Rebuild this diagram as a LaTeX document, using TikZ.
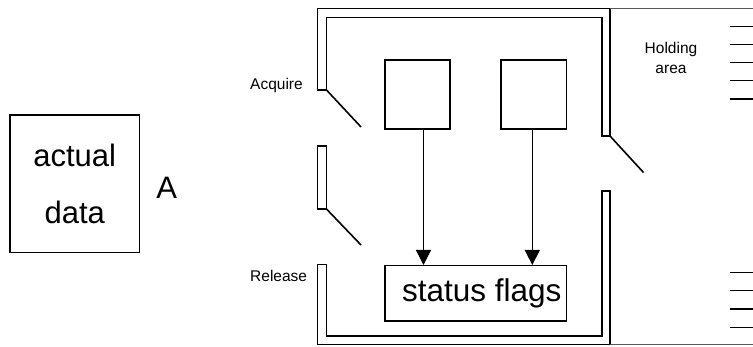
\documentclass[tikz,border=0pt]{standalone}
\usepackage{fontspec}
\setmainfont{Liberation Sans}
\usetikzlibrary{arrows.meta,calc}

\begin{document}
\begin{tikzpicture}[x=1pt,y=-1pt,
    wall/.style={draw=black,line width=1.5pt,line join=miter},
    door/.style={draw=black,line width=1.6pt},
    box/.style={draw=black,line width=1.3pt,rectangle,inner sep=0pt},
    flow/.style={line width=1.2pt,-{Triangle[width=15pt,length=15pt]}},
    rung/.style={draw=black,line width=1.4pt},
    small/.style={font=\fontsize{15.5}{19.3}\selectfont},
    big/.style={font=\fontsize{31}{57}\selectfont}]
  \useasboundingbox (0,0) rectangle (753,347);

  % Walls
  \draw[wall] (317.5,90)--(317.5,8.5)--(610,8.5)--(610,136)--(602,136)--(602,17.5)--(326.5,17.5)--(326.5,90)--cycle;
  \draw[wall] (317.5,146) rectangle (326.5,209);
  \draw[wall] (317.5,264.5)--(317.5,344.5)--(610,344.5)--(610,191)--(602,191)--(602,336)--(326.5,336)--(326.5,264.5)--cycle;
  \draw[gray!70!black,line width=1.4pt] (610,8.5)--(753,8.5);
  \draw[gray!70!black,line width=1.4pt] (610,344.5)--(753,344.5);

  % Doors
  \draw[door] (326.5,90)--(361,127);
  \draw[door] (326.5,209)--(361,245);
  \draw[door] (610,136)--(643.5,172.5);

  % Holding area marks
  \foreach \y in {26.7,44.3,62.3,80.7,99,272.3,290.7,309,327.7}
    \draw[rung] (730,\y)--(753,\y);

  % Labels
  \node[small,anchor=base west,inner sep=0pt] (acquire) at (250,89.3) {Acquire};
  \node[small,anchor=base west,inner sep=0pt] (release) at (250,281.7) {Release};
  \node[small,align=center] (holding) at (671,58) {Holding\\area};

  % Data block
  \node[box,big,align=center,minimum width=129.3pt,minimum height=137.3pt] (actual) at (74.7,183.7) {actual\\data};
  \node[big] (letterA) at (166.7,188.3) {A};

  % Registers and flags
  \node[box,minimum width=65pt,minimum height=69pt] (reg1) at (417.5,94.5) {};
  \node[box,minimum width=65.7pt,minimum height=69pt] (reg2) at (533.8,94.5) {};
  \node[box,minimum width=181.7pt,minimum height=55.3pt] (flags) at (475.8,293.3) {};
  \node[font=\fontsize{31.5}{37}\selectfont,inner sep=0pt] (flagstext) at (481.7,293.3) {status flags};
  \coordinate (tap1) at ([xshift=6pt]reg1.south);
  \coordinate (tap2) at ([xshift=-1.5pt]reg2.south);
  \draw[flow] (tap1) -- (tap1 |- flags.north);
  \draw[flow] (tap2) -- (tap2 |- flags.north);
\end{tikzpicture}
\end{document}
